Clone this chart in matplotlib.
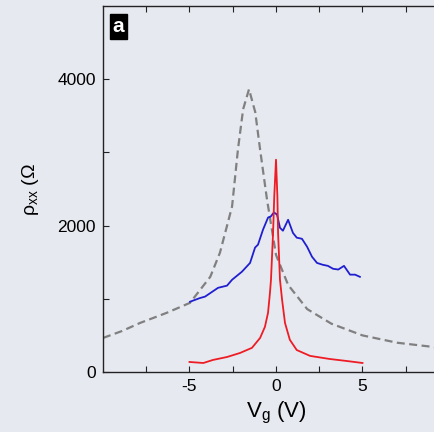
import matplotlib
matplotlib.use("Agg")
import matplotlib.pyplot as plt
from matplotlib.ticker import MultipleLocator, FixedLocator

# --- données ---
# courbe pointillée grise (théorie)
vg_dash = [-10, -8.9, -7.86, -6.3, -4.97, -3.8, -3.24, -2.54, -2.2, -1.9, -1.56,
           -1.2, -0.92, -0.52, 0.0, 0.7, 1.8, 3.2, 5.0, 7.0, 9.1, 10]
rho_dash = [465, 560, 670, 810, 945, 1300, 1630, 2260, 3040, 3590, 3863,
            3550, 3040, 2356, 1600, 1190, 860, 660, 500, 400, 342, 320]

# courbe bleue
vg_blue = [-4.97, -4.4, -4.1, -3.35, -2.83, -2.54, -1.97, -1.5, -1.21, -1.04,
           -0.75, -0.46, -0.3, -0.12, 0.06, 0.23, 0.4, 0.7, 0.98, 1.2, 1.5,
           1.8, 2.08, 2.37, 2.7, 3.0, 3.3, 3.6, 3.93, 4.28, 4.57, 4.85]
rho_blue = [960, 1010, 1030, 1150, 1180, 1260, 1370, 1490, 1700, 1740,
            1945, 2110, 2125, 2180, 2150, 1970, 1930, 2080, 1900, 1835, 1820,
            1710, 1575, 1490, 1465, 1450, 1410, 1400, 1450, 1330, 1330, 1300]

# courbe rouge
vg_red = [-5.0, -4.2, -3.64, -2.83, -2.08, -1.39, -0.92, -0.64, -0.46, -0.35,
          -0.29, -0.17, -0.1, 0.0, 0.08, 0.12, 0.23, 0.35, 0.52, 0.8, 1.2,
          1.97, 3.1, 4.1, 5.0]
rho_red = [137, 123, 165, 205, 260, 330, 465, 617, 810, 1080,
           1260, 1900, 2400, 2900, 2400, 1900, 1260, 990, 670, 440, 300,
           220, 178, 150, 123]

BG = "#e7e9f1"

fig = plt.figure(figsize=(4.35, 4.32), dpi=100, facecolor=BG)
ax = fig.add_axes([103 / 435, 60 / 432, 346 / 435, 366 / 432])
ax.set_facecolor(BG)

ax.plot(vg_dash, rho_dash, color="#808080", lw=1.6, dashes=(3.6, 2.0))
ax.plot(vg_blue, rho_blue, color="#1f1fd0", lw=1.3)
ax.plot(vg_red, rho_red, color="#ee1c24", lw=1.3)

ax.set_xlim(-10, 10)
ax.set_ylim(0, 5000)

ax.xaxis.set_major_locator(FixedLocator([-5, 0, 5]))
ax.xaxis.set_minor_locator(FixedLocator([-7.5, -2.5, 2.5, 7.5]))
ax.yaxis.set_major_locator(MultipleLocator(2000))
ax.yaxis.set_minor_locator(FixedLocator([1000, 3000]))

ax.tick_params(which="both", direction="in", top=True, right=False,
               labelsize=12.5, color="#222222", width=0.8)
ax.tick_params(which="major", length=4, pad=5)
ax.tick_params(which="minor", length=4)
for s in ["left", "bottom", "top"]:
    ax.spines[s].set_linewidth(1.0)
    ax.spines[s].set_color("#222222")
ax.spines["right"].set_visible(False)

for lab in ax.get_xticklabels() + ax.get_yticklabels():
    lab.set_fontfamily("Liberation Sans")

ax.set_xticklabels(["-5", "0", "5"])

ax.set_xlabel(r"V$_\mathregular{g}$ (V)", fontsize=16, family="Liberation Sans",
              labelpad=4)
# la parenthèse fermante n'apparaît pas sur la figure d'origine
ax.set_ylabel(r"$\mathregular{\rho}_\mathregular{xx}$ ($\mathregular{\Omega}$",
              fontsize=14, family="Liberation Sans", labelpad=12)

ax.text(0.028, 0.969, "a", transform=ax.transAxes, ha="left", va="top",
        color="white", fontsize=15, fontweight="bold", family="Liberation Sans",
        bbox=dict(boxstyle="square,pad=0.15", facecolor="black", edgecolor="black"))

fig.savefig("out.png", dpi=100, facecolor=BG)
